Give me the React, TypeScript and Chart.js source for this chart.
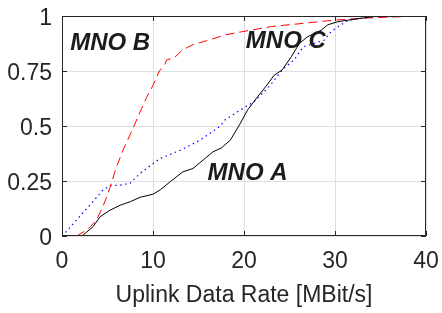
import { useEffect, useRef } from 'react';
import { Chart, registerables } from 'chart.js';

Chart.register(...registerables);

// Empirical CDFs of uplink data rate per operator
const mnoARate = [2.2, 3.4, 4.2, 5.3, 6.4, 7.5, 8.6, 10, 10.8, 11.9, 13.3, 14.4, 15.5, 16.6, 17.5, 18.5, 19.5, 20.4, 21.5, 22.4, 23.3, 24.2, 25.2, 26.1, 27, 28.5, 29.2, 30.3, 32.9, 34.7];
const mnoACdf = [0, 0.042, 0.088, 0.118, 0.14, 0.156, 0.176, 0.19, 0.21, 0.247, 0.292, 0.307, 0.345, 0.383, 0.4, 0.436, 0.505, 0.573, 0.633, 0.68, 0.73, 0.755, 0.815, 0.876, 0.906, 0.936, 0.96, 0.974, 0.99, 1];

const mnoBRate = [1.6, 2.7, 3.1, 3.8, 4.4, 4.9, 5.3, 5.8, 6.0, 6.7, 7.7, 8.75, 9.3, 10, 10.7, 11.3, 11.5, 12.4, 13.2, 14.4, 16.1, 18, 19.7, 23, 26.6, 29.6, 32.9, 37.3, 38];
const mnoBCdf = [0, 0.027, 0.042, 0.073, 0.126, 0.175, 0.224, 0.29, 0.315, 0.39, 0.48, 0.58, 0.63, 0.685, 0.75, 0.78, 0.8, 0.812, 0.845, 0.87, 0.89, 0.915, 0.928, 0.952, 0.967, 0.98, 0.99, 0.997, 1];

const mnoCRate = [0, 0.15, 1.6, 3.4, 4.5, 5.3, 6.5, 7.5, 8.6, 10.8, 12.2, 13, 15.2, 17.4, 17.9, 19.6, 21.1, 22.9, 24.3, 25.5, 26.5, 28.8, 29.6, 31.4, 34.7];
const mnoCCdf = [0, 0.005, 0.073, 0.156, 0.21, 0.229, 0.232, 0.24, 0.285, 0.353, 0.376, 0.39, 0.436, 0.5, 0.527, 0.573, 0.61, 0.686, 0.76, 0.8, 0.86, 0.89, 0.93, 0.98, 1];

const xTickValues = [0, 10, 20, 30, 40];
const yTickValues = [0, 0.25, 0.5, 0.75, 1];
const yTickLabels = ['0', '0.25', '0.5', '0.75', '1'];
const xAxisTitle = 'Uplink Data Rate [MBit/s]';

const curveLabels = ['MNO A', 'MNO B', 'MNO C'];
const curveLabelRate = [16.0, 0.9, 20.2];
const curveLabelCdf = [0.255, 0.845, 0.853];

const FONT = '"Liberation Sans", Arial, Helvetica, sans-serif';
const AXIS_COLOR = '#262626';
const GRID_COLOR = '#dfdfdf';

const toPoints = (xs: number[], ys: number[]) => xs.map((x, i) => ({ x, y: ys[i] }));

// Box around the plot with inward tick marks, then the curve names
const framePlugin = {
  id: 'frame',
  afterDatasetsDraw(chart: any) {
    const { ctx, chartArea: a, scales } = chart;
    const tick = 5;
    ctx.save();
    ctx.strokeStyle = AXIS_COLOR;
    ctx.lineWidth = 1;
    ctx.beginPath();
    ctx.rect(a.left + 0.5, a.top + 0.5, a.right - a.left - 1, a.bottom - a.top - 1);
    for (const v of xTickValues) {
      const px = Math.round(scales.x.getPixelForValue(v)) + 0.5;
      ctx.moveTo(px, a.bottom);
      ctx.lineTo(px, a.bottom - tick);
      ctx.moveTo(px, a.top);
      ctx.lineTo(px, a.top + tick);
    }
    for (const v of yTickValues) {
      const py = Math.round(scales.y.getPixelForValue(v)) + 0.5;
      ctx.moveTo(a.left, py);
      ctx.lineTo(a.left + tick, py);
      ctx.moveTo(a.right, py);
      ctx.lineTo(a.right - tick, py);
    }
    ctx.stroke();

    ctx.fillStyle = '#1c1c1c';
    ctx.font = `italic bold 24px ${FONT}`;
    ctx.textAlign = 'left';
    ctx.textBaseline = 'alphabetic';
    curveLabels.forEach((t, i) => {
      ctx.fillText(t, scales.x.getPixelForValue(curveLabelRate[i]), scales.y.getPixelForValue(curveLabelCdf[i]));
    });
    ctx.restore();
  },
};

export default function App() {
  const canvasRef = useRef<HTMLCanvasElement | null>(null);

  useEffect(() => {
    const canvas = canvasRef.current;
    if (!canvas) return;
    const chart = new Chart(canvas, {
      type: 'line',
      data: {
        datasets: [
          {
            label: 'MNO A',
            data: toPoints(mnoARate, mnoACdf),
            borderColor: '#000000',
            borderWidth: 1,
            pointRadius: 0,
            fill: false,
            tension: 0,
          },
          {
            label: 'MNO B',
            data: toPoints(mnoBRate, mnoBCdf),
            borderColor: '#ff0000',
            borderWidth: 1,
            borderDash: [9, 5],
            pointRadius: 0,
            fill: false,
            tension: 0,
          },
          {
            label: 'MNO C',
            data: toPoints(mnoCRate, mnoCCdf),
            borderColor: '#0000ff',
            borderWidth: 1.2,
            borderDash: [1.5, 3.5],
            pointRadius: 0,
            fill: false,
            tension: 0,
          },
        ],
      },
      options: {
        responsive: false,
        animation: false,
        events: [],
        layout: { padding: { top: 16, right: 16, bottom: 4, left: 0 } },
        plugins: { legend: { display: false }, tooltip: { enabled: false } },
        scales: {
          x: {
            type: 'linear',
            min: 0,
            max: 40,
            afterFit: (s: any) => {
              s.height = 73;
              s.paddingLeft = 0;
              s.paddingRight = 0;
            },
            afterBuildTicks: (s: any) => { s.ticks = xTickValues.map((value) => ({ value })); },
            grid: { color: GRID_COLOR, drawTicks: false },
            border: { display: false },
            ticks: {
              padding: 12,
              color: AXIS_COLOR,
              maxRotation: 0,
              font: { family: FONT, size: 23 },
              callback: (v: any) => String(v),
            },
            title: {
              display: true,
              text: xAxisTitle,
              color: AXIS_COLOR,
              font: { family: FONT, size: 23 },
              padding: { top: 0, bottom: 0 },
            },
          },
          y: {
            type: 'linear',
            min: 0,
            max: 1,
            afterFit: (s: any) => {
              s.width = 62;
              s.paddingTop = 0;
              s.paddingBottom = 0;
            },
            afterBuildTicks: (s: any) => { s.ticks = yTickValues.map((value) => ({ value })); },
            grid: { color: GRID_COLOR, drawTicks: false },
            border: { display: false },
            ticks: {
              padding: 10,
              labelOffset: 2.5,
              color: AXIS_COLOR,
              font: { family: FONT, size: 23 },
              callback: (_v: any, i: number) => yTickLabels[i],
            },
          },
        },
      },
      plugins: [framePlugin],
    });
    return () => chart.destroy();
  }, []);

  return (
    <div style={{ position: 'fixed', left: 0, top: 0, width: 442, height: 313, background: '#ffffff' }}>
      <canvas ref={canvasRef} width={442} height={313} />
    </div>
  );
}
